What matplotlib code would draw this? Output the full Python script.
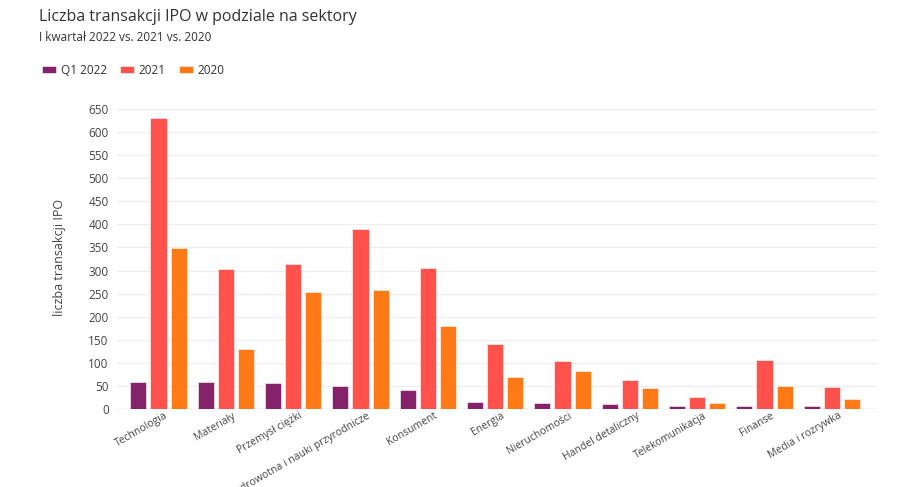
import numpy as np
import matplotlib
matplotlib.use("Agg")
import matplotlib.pyplot as plt
import matplotlib.transforms as mtransforms

sectors = ["Technologia", "Materiały", "Przemysł ciężki",
           "Opieka zdrowotna i nauki przyrodnicze", "Konsument", "Energia",
           "Nieruchomości", "Handel detaliczny", "Telekomunikacja",
           "Finanse", "Media i rozrywka"]
q1_2022 = [59, 59, 57, 50, 41, 15, 14, 11, 6, 6, 6]
y2021 = [630, 304, 315, 390, 305, 141, 105, 62, 27, 106, 48]
y2020 = [348, 129, 254, 258, 180, 69, 82, 45, 12, 50, 22]
series_names = ["Q1 2022", "2021", "2020"]
colors = ["#86216b", "#ff524d", "#ff7a17"]
yticks = list(range(0, 651, 50))

plt.rcParams['font.family'] = ['Open Sans', 'DejaVu Sans']

fig = plt.figure(figsize=(9.24, 4.87), dpi=100)
ax = fig.add_axes([0.1266, 0.1602, 0.8224, 0.6208])

x = np.arange(len(sectors))
w = 0.24
step = 0.30
handles = []
for i, (vals, name, c) in enumerate(zip([q1_2022, y2021, y2020], series_names, colors)):
    b = ax.bar(x + (i - 1) * step, vals, w, color=c, label=name,
               edgecolor='white', linewidth=0.4, zorder=3)
    handles.append(b)

ax.set_xlim(-0.616, 10.668)
ax.set_ylim(0, 655)
ax.set_yticks(yticks)
ax.grid(axis='y', color='#eeeeee', linewidth=1, zorder=0)
ax.tick_params(axis='y', length=0, labelsize=8.5, colors='#444444', pad=6)
ax.tick_params(axis='x', length=0, labelsize=7.5, colors='#444444', pad=1)
ax.set_xticks(x)
ax.set_xticklabels(sectors, rotation=30, ha='right', rotation_mode='anchor')
shift = mtransforms.ScaledTranslation(6 / 100, 0, fig.dpi_scale_trans)
for lbl in ax.get_xticklabels():
    lbl.set_transform(lbl.get_transform() + shift)
for s in ax.spines.values():
    s.set_visible(False)
ax.axhline(0, color='#e6e6e6', linewidth=1, zorder=2)

ax.set_ylabel("liczba transakcji IPO", fontsize=9, color='#444444', labelpad=16)

fig.text(0.042, 0.965, "Liczba transakcji IPO w podziale na sektory",
         fontsize=11.5, color='#333333', va='center')
fig.text(0.042, 0.922, "I kwartał 2022 vs. 2021 vs. 2020",
         fontsize=8.5, color='#333333', va='center')

fig.legend(handles=handles, labels=series_names, loc='center left',
           bbox_to_anchor=(0.034, 0.856), ncol=3, frameon=False,
           fontsize=8.5, handlelength=1.2, handleheight=0.6,
           handletextpad=0.4, columnspacing=1.1, labelcolor='#333333')

fig.savefig("out.png", dpi=100)
